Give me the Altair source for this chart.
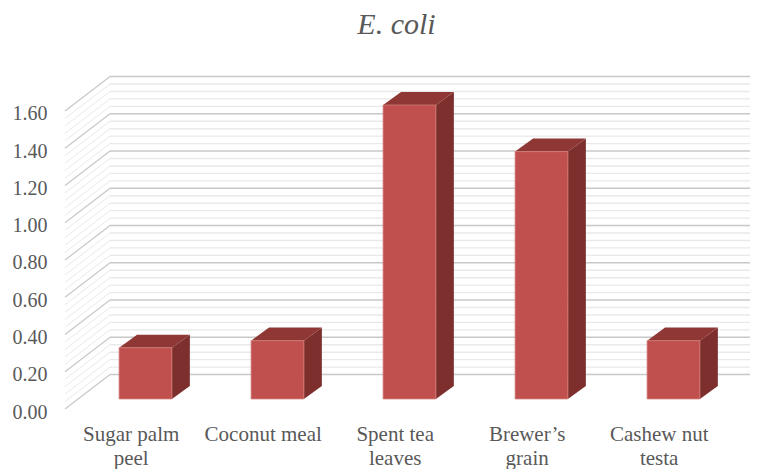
import altair as alt
import pandas as pd

categories = ["Sugar palm\npeel", "Coconut meal", "Spent tea\nleaves", "Brewer’s\ngrain", "Cashew nut\ntesta"]
values = [0.275, 0.313, 1.578, 1.328, 0.313]
major_ticks = [0.0, 0.2, 0.4, 0.6, 0.8, 1.0, 1.2, 1.4, 1.6]
minor_ticks = [round(i * 0.04, 2) for i in range(41) if i % 5 != 0]

# Depth geometry, in axis units
WALL_DX, WALL_DY = 0.341, 0.185
BAR_SHIFT, BAR_BASE = 0.0985, 0.054
BAR_HALF, BAR_DX, BAR_DY = 0.2, 0.136, 0.07
LABEL_Y = -0.172
LABEL_SHIFT = -0.01

xs = alt.Scale(domain=[0.48864, 5.678], nice=False, zero=False)
ys = alt.Scale(domain=[0, 1.8738], nice=False, zero=False)
y_axis = alt.Axis(
    values=major_ticks, format=".2f", title=None, domain=False, ticks=False, grid=False,
    labelFont="Liberation Serif", labelFontSize=20, labelColor="#595959", labelPadding=18,
    labelOffset=3,
)
X = lambda f: alt.X(f, type="quantitative", scale=xs, axis=None)
Y = lambda f: alt.Y(f, type="quantitative", scale=ys, axis=y_axis)

x_start, x_wall = xs.domain[0], xs.domain[0] + WALL_DX
x_end = xs.domain[1]

back = pd.DataFrame([{"v": v, "x": x_wall, "x2": x_end, "y": v + WALL_DY} for v in major_ticks])
back_minor = pd.DataFrame([{"v": v, "x": x_wall, "x2": x_end, "y": v + WALL_DY} for v in minor_ticks])


def wall(ticks):
    rows = []
    for v in ticks:
        rows.append({"v": v, "x": x_start, "y": v})
        rows.append({"v": v, "x": x_wall, "y": v + WALL_DY})
    return pd.DataFrame(rows)


front_rows, side_rows, top_rows = [], [], []
for i, (c, v) in enumerate(zip(categories, values)):
    p = i + 1 + BAR_SHIFT
    l, r = p - BAR_HALF, p + BAR_HALF
    b, t = BAR_BASE, BAR_BASE + v
    front_rows.append({"c": c, "x": l, "x2": r, "y": b, "y2": t})
    side_rows += [
        {"c": c, "x": r, "y": b, "y2": t},
        {"c": c, "x": r + BAR_DX, "y": b + BAR_DY, "y2": t + BAR_DY},
    ]
    top_rows += [
        {"c": c, "x": l, "y": t, "y2": t},
        {"c": c, "x": l + BAR_DX, "y": t, "y2": t + BAR_DY},
        {"c": c, "x": r, "y": t, "y2": t + BAR_DY},
        {"c": c, "x": r + BAR_DX, "y": t + BAR_DY, "y2": t + BAR_DY},
    ]
front = pd.DataFrame(front_rows)
side = pd.DataFrame(side_rows)
top = pd.DataFrame(top_rows)
labels = pd.DataFrame({"c": categories, "x": [i + 1 + LABEL_SHIFT for i in range(5)], "y": [LABEL_Y] * 5})

minor_color, major_color = "#e9e9e9", "#c8c8c8"
layers = [
    alt.Chart(wall(minor_ticks)).mark_line(color=minor_color, strokeWidth=1).encode(x=X("x"), y=Y("y"), detail="v:N"),
    alt.Chart(back_minor).mark_rule(color=minor_color, strokeWidth=1.4).encode(x=X("x"), x2="x2", y=Y("y")),
    alt.Chart(wall(major_ticks)).mark_line(color=major_color, strokeWidth=1.2).encode(x=X("x"), y=Y("y"), detail="v:N"),
    alt.Chart(back).mark_rule(color=major_color, strokeWidth=1.6).encode(x=X("x"), x2="x2", y=Y("y")),
    alt.Chart(side).mark_area(color="#7D2F2D", interpolate="linear").encode(x=X("x"), y=Y("y"), y2="y2", detail="c:N"),
    alt.Chart(top).mark_area(color="#8E3735", interpolate="linear").encode(x=X("x"), y=Y("y"), y2="y2", detail="c:N"),
    alt.Chart(front).mark_rect(color="#C0504D", stroke="#D27C79", strokeWidth=0.8).encode(x=X("x"), x2="x2", y=Y("y"), y2="y2"),
    alt.Chart(labels).mark_text(
        font="Liberation Serif", fontSize=21, color="#595959", lineBreak="\n", lineHeight=24, baseline="alphabetic", align="center",
    ).encode(x=X("x"), y=Y("y"), text="c:N"),
]

chart = alt.layer(*layers).properties(
    width=685,
    height=349,
    autosize=alt.AutoSizeParams(type="none"),
    padding={"left": 57, "top": 52, "right": 0, "bottom": 60},
    title=alt.TitleParams(
        "E. coli", font="Liberation Serif", fontStyle="italic", fontWeight="normal", fontSize=30,
        color="#595959", anchor="middle", dx=-11, offset=20,
    ),
).configure_view(stroke=None)

chart.save("out.html", embed_options={"renderer": "svg", "actions": False})
